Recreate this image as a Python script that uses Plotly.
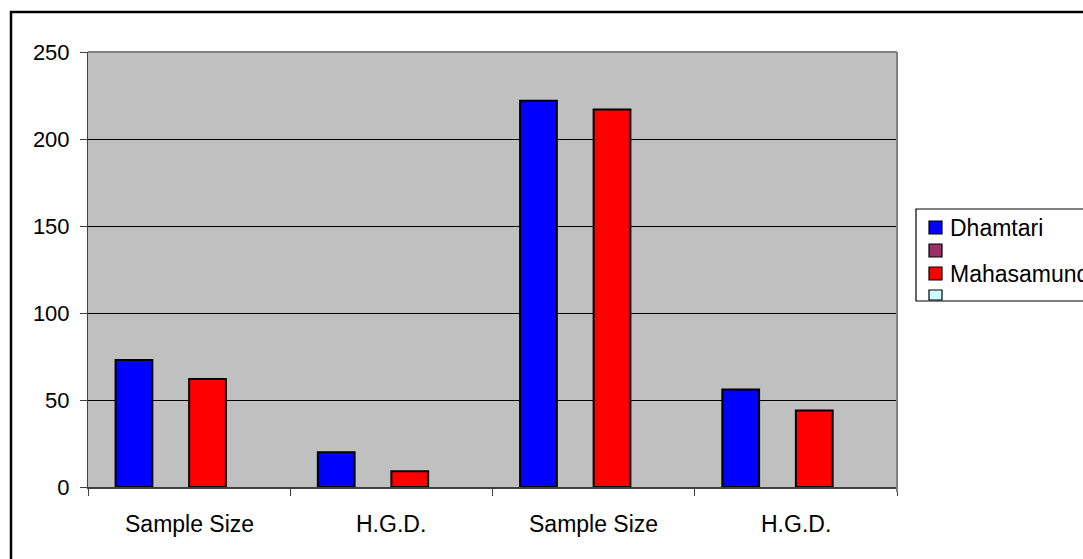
import plotly.graph_objects as go

# Categories along the x axis (two districts' survey groups)
categories = ["Sample Size", "H.G.D.", "Sample Size", "H.G.D."]

# Series names and values (empty series keep their slots in each cluster)
series_names = ["Dhamtari", "", "Mahasamund", ""]
dhamtari = [73, 20, 222, 56]
series2 = [None, None, None, None]
mahasamund = [62, 9, 217, 44]
series4 = [None, None, None, None]
series_values = [dhamtari, series2, mahasamund, series4]
series_colors = ["#0000FF", "#993366", "#FF0000", "#CCFFFF"]

y_ticks = [0, 50, 100, 150, 200, 250]

W, H = 1083, 559
L, R, T, B = 88, 186, 52, 72
PW, PH = W - L - R, H - T - B
FONT = "Liberation Sans, Arial, sans-serif"


def px_x(px):
    return (px - L) / PW


def px_y(py):
    return (H - B - py) / PH


positions = list(range(len(categories)))

fig = go.Figure()
for name, vals, col in zip(series_names, series_values, series_colors):
    fig.add_trace(go.Bar(
        x=positions, y=vals, name=name,
        marker=dict(color=col, line=dict(color="#000000", width=2)),
        showlegend=False, hoverinfo="skip",
    ))

shapes = []
annotations = []

# Outer chart border (top and left edges)
shapes.append(dict(type="path", xref="paper", yref="paper",
                   path=f"M {px_x(11)} {px_y(600)} L {px_x(11)} {px_y(12)} L {px_x(1120)} {px_y(12)}",
                   line=dict(color="#000000", width=2.5)))

# Plot-area border on top and right
shapes.append(dict(type="line", xref="paper", yref="paper",
                   x0=0, x1=1, y0=1, y1=1, line=dict(color="#808080", width=2)))
shapes.append(dict(type="line", xref="paper", yref="paper",
                   x0=1, x1=1, y0=px_y(492), y1=1, line=dict(color="#808080", width=2)))

# Category labels centred under each cluster
for i, lab in enumerate(categories):
    annotations.append(dict(x=i, xref="x", y=0, yref="y", yshift=-37,
                            text=lab, showarrow=False, xanchor="center", yanchor="middle",
                            font=dict(family=FONT, size=23, color="#000000")))

# Legend box
shapes.append(dict(type="rect", xref="paper", yref="paper",
                   x0=px_x(916), x1=px_x(1120), y0=px_y(301), y1=px_y(209),
                   fillcolor="#FFFFFF", line=dict(color="#000000", width=1.2)))
for i, (name, col) in enumerate(zip(series_names, series_colors)):
    top = 221 + 23 * i
    bot = min(top + 13, 300)
    shapes.append(dict(type="rect", xref="paper", yref="paper",
                       x0=px_x(929), x1=px_x(942), y0=px_y(bot), y1=px_y(top),
                       fillcolor=col, line=dict(color="#000000", width=1.2)))
    if name:
        annotations.append(dict(x=px_x(948), xref="paper", y=px_y(top + 7), yref="paper",
                                text=name, showarrow=False, xanchor="left", yanchor="middle",
                                font=dict(family=FONT, size=23, color="#000000")))

fig.update_layout(
    width=W, height=H,
    margin=dict(l=L, r=R, t=T, b=B, autoexpand=False),
    paper_bgcolor="#FFFFFF",
    plot_bgcolor="#C0C0C0",
    barmode="group",
    bargap=0.2727,
    bargroupgap=0,
    font=dict(family=FONT, size=22, color="#000000"),
    shapes=shapes,
    annotations=annotations,
    xaxis=dict(
        range=[-0.5, len(categories) - 0.5],
        tickmode="array",
        tickvals=[p - 0.5 for p in positions] + [len(categories) - 0.5],
        ticktext=[""] * (len(categories) + 1),
        ticks="outside", ticklen=7, tickwidth=1, tickcolor="#404040",
        showgrid=False, zeroline=False,
        showline=True, linecolor="#404040", linewidth=2,
        fixedrange=True,
    ),
    yaxis=dict(
        range=[0, 250],
        tickmode="array", tickvals=y_ticks,
        ticks="outside", ticklen=7, tickwidth=1, tickcolor="#404040",
        ticklabelstandoff=6,
        showgrid=True, gridcolor="#000000", gridwidth=1,
        zeroline=False,
        showline=True, linecolor="#404040", linewidth=1,
        tickfont=dict(family=FONT, size=22, color="#000000"),
        fixedrange=True,
    ),
)

fig.write_html("out.html")
